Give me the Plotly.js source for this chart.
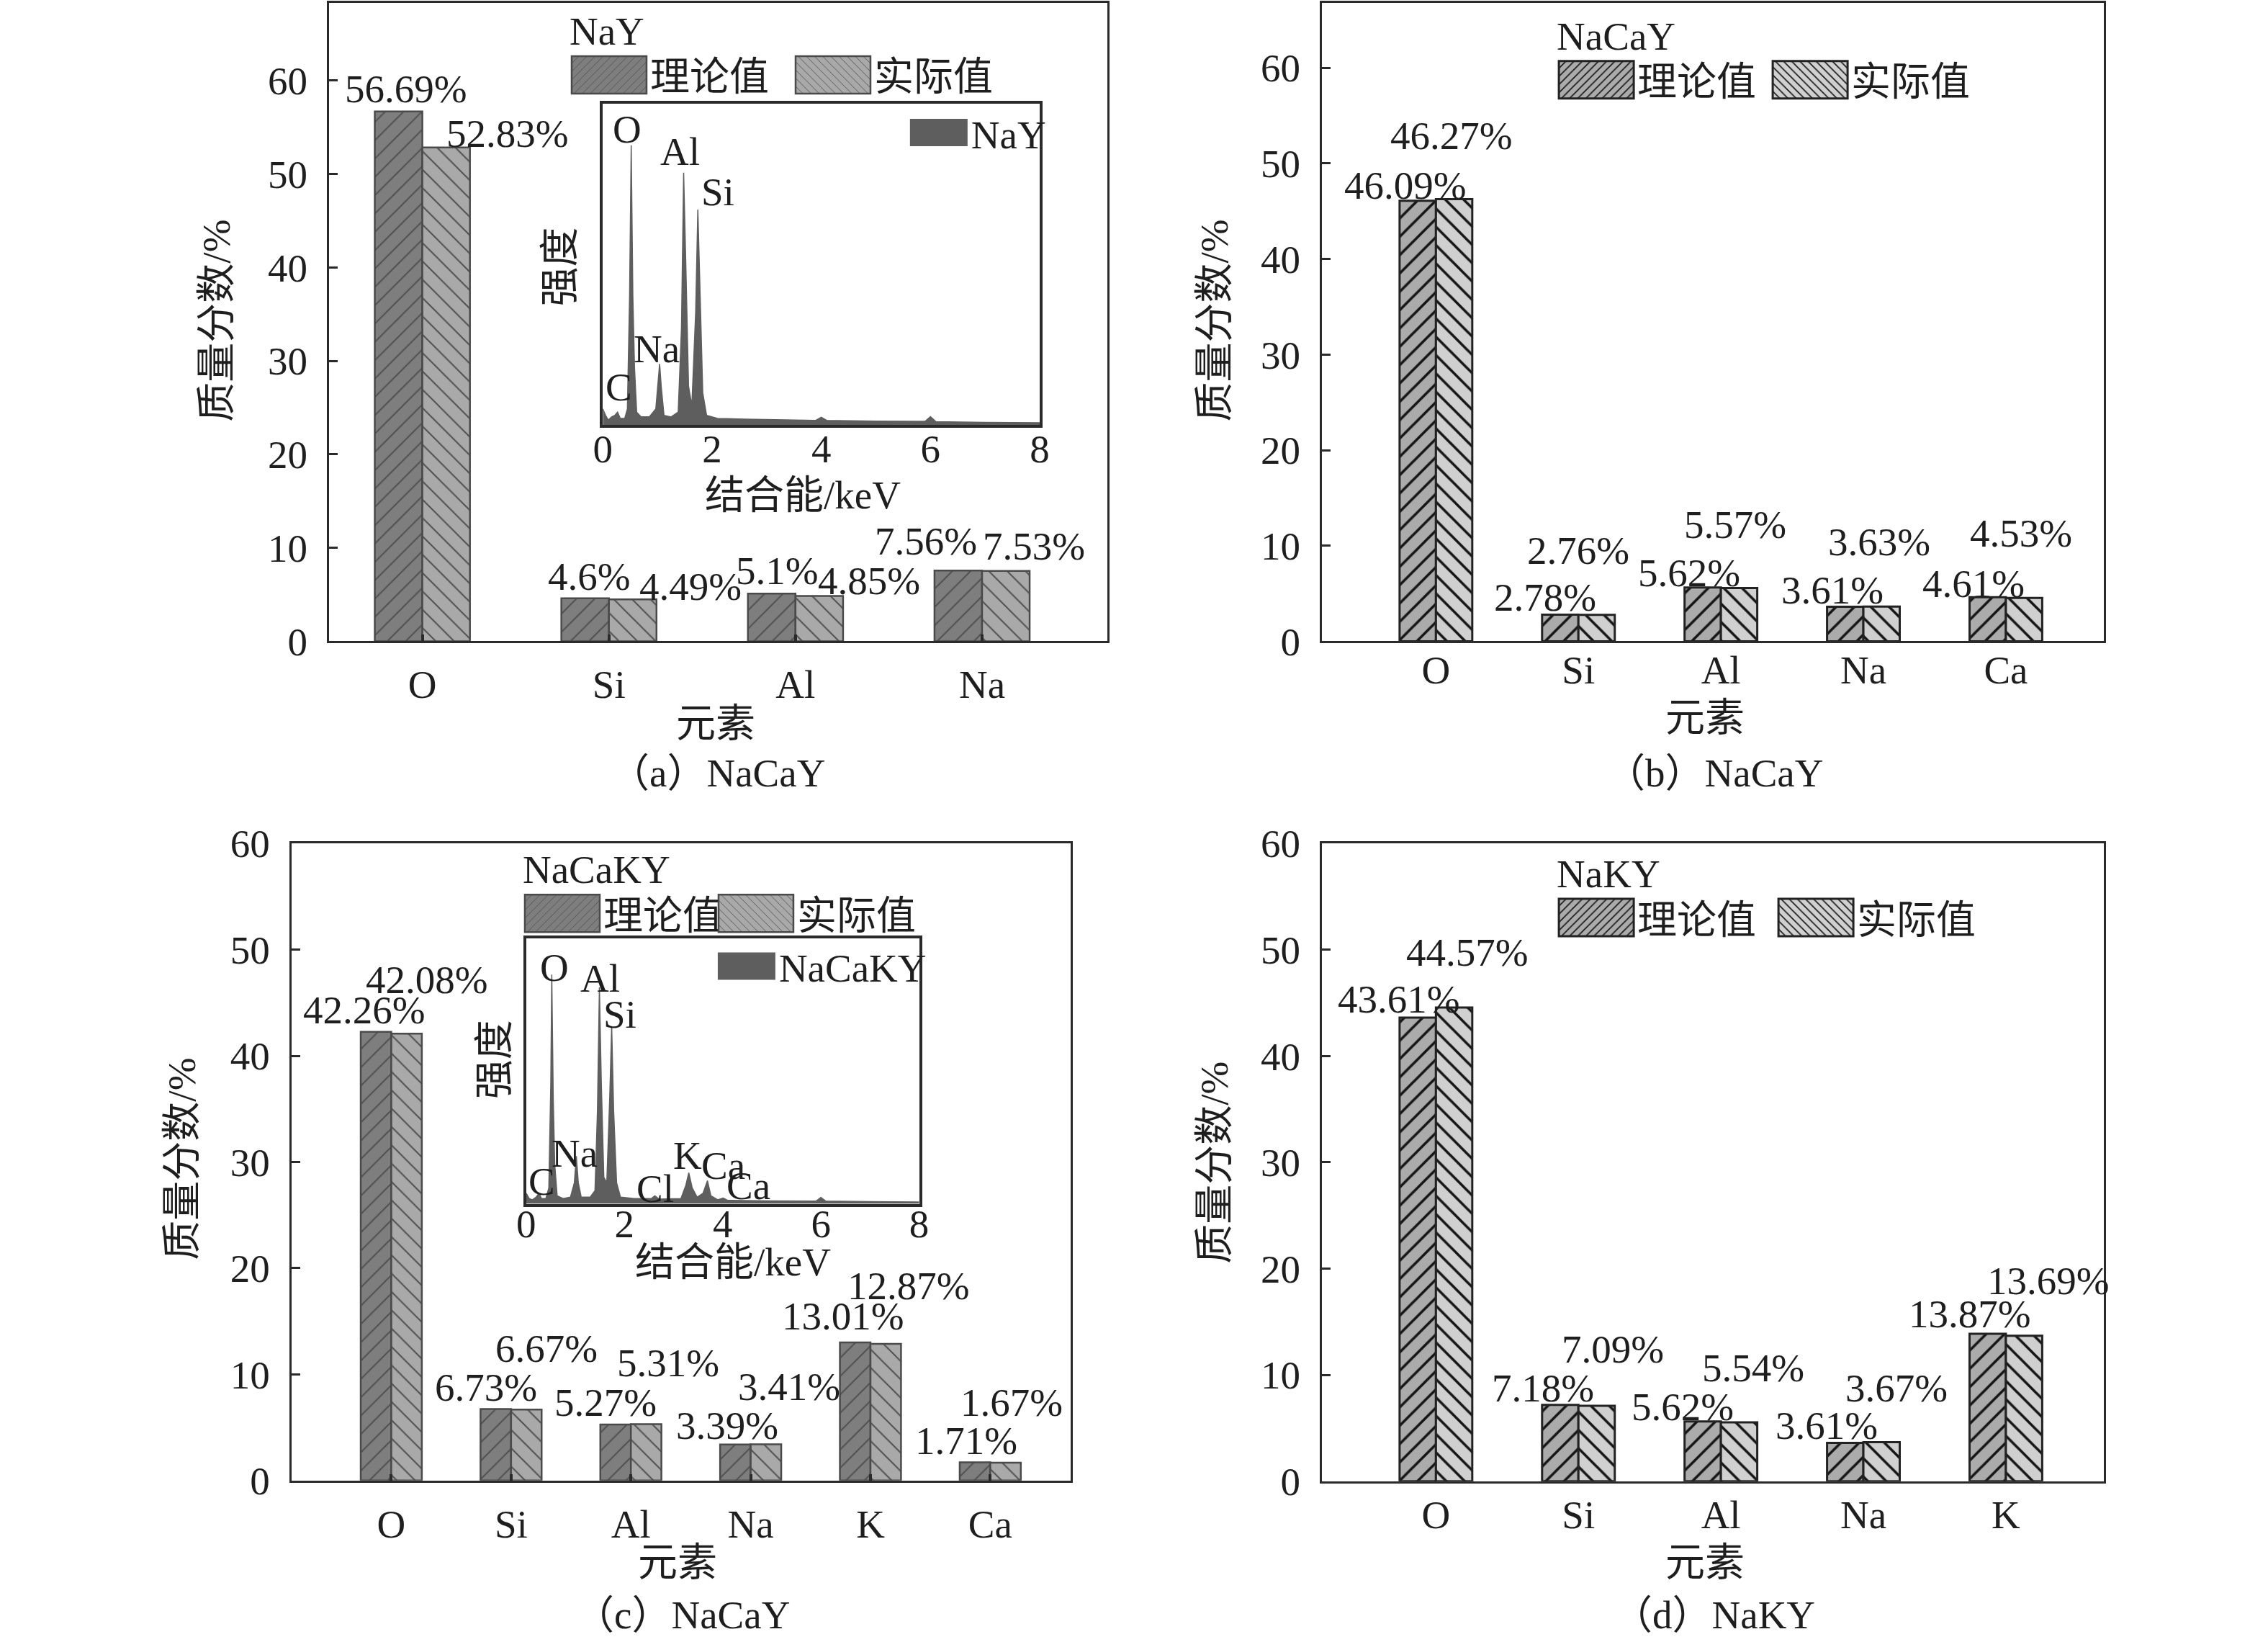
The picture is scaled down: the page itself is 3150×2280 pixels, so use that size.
<!DOCTYPE html>
<html>
<head>
<meta charset="utf-8">
<script src="https://cdn.plot.ly/plotly-3.0.1.min.js"></script>
<style>html,body{margin:0;padding:0;background:#fff;}</style>
</head>
<body>
<div id="chart" style="width:3150px;height:2280px;"></div>
<script>
// ---------------- data ----------------
const catsA = ['O', 'Si', 'Al', 'Na'];
const theoA = [56.69, 4.6, 5.1, 7.56];
const actA  = [52.83, 4.49, 4.85, 7.53];

const catsB = ['O', 'Si', 'Al', 'Na', 'Ca'];
const theoB = [46.09, 2.78, 5.62, 3.61, 4.61];
const actB  = [46.27, 2.76, 5.57, 3.63, 4.53];

const catsC = ['O', 'Si', 'Al', 'Na', 'K', 'Ca'];
const theoC = [42.26, 6.73, 5.27, 3.39, 13.01, 1.71];
const actC  = [42.08, 6.67, 5.31, 3.41, 12.87, 1.67];

const catsD = ['O', 'Si', 'Al', 'Na', 'K'];
const theoD = [43.61, 7.18, 5.62, 3.61, 13.87];
const actD  = [44.57, 7.09, 5.54, 3.67, 13.69];

const seriesNames = ['理论值', '实际值'];
const legendTitles = ['NaY', 'NaCaY', 'NaCaKY', 'NaKY'];
const captions = ['（a）NaCaY', '（b）NaCaY', '（c）NaCaY', '（d）NaKY'];
const yTicks = [0, 10, 20, 30, 40, 50, 60];
const insetTicks = [0, 2, 4, 6, 8];

// EDS spectrum, inset of (a): energy keV / relative intensity
const energyA = [0.00,0.05,0.10,0.16,0.22,0.27,0.32,0.40,0.45,0.49,0.52,0.55,0.58,0.62,0.70,0.85,0.97,1.02,1.04,1.07,1.12,1.25,1.38,1.44,1.48,1.52,1.57,1.63,1.70,1.74,1.78,1.83,1.90,2.10,2.60,3.20,3.90,4.00,4.10,5.00,5.90,6.00,6.10,7.00,8.00];
const intenA  = [5,3,1.5,2.5,3,4,2,2,5,40,87,40,18,4,2.5,2.5,5,15,19,12,3,2.5,4,30,78.5,50,12,6,35,67,40,10,3,2,1.8,1.6,1.4,2.4,1.4,1.2,1.1,2.6,1.0,0.8,0.7];
// EDS spectrum, inset of (c)
const energyC = [0.00,0.06,0.12,0.20,0.26,0.31,0.40,0.46,0.50,0.52,0.55,0.58,0.63,0.75,0.90,0.98,1.02,1.06,1.12,1.30,1.40,1.45,1.49,1.53,1.58,1.64,1.70,1.74,1.78,1.84,1.92,2.20,2.55,2.62,2.70,3.15,3.25,3.31,3.38,3.48,3.60,3.69,3.76,3.90,4.01,4.10,5.00,5.90,6.00,6.10,7.00,8.00];
const intenC  = [4,2,1.5,2.5,4,2,2,6,45,86.4,40,15,3,2,2.5,8,18,8,2.5,2.5,5,35,81.6,45,10,8,40,67,35,8,2.5,2,2,3,1.8,2,7,11.7,6,2.5,4,8.7,3,1.5,2.2,1.3,1.1,1.0,2.4,1.0,0.8,0.7];
const peakLabelsA = ['O', 'Al', 'Si', 'Na', 'C'];
const peakLabelsC = ['O', 'Al', 'Si', 'Na', 'C', 'Cl', 'K', 'Ca', 'Ca'];

// ---------------- geometry / style ----------------
const W = 3150, H = 2280;
const S = 0.985;                       // measurement scale correction
const px = v => v * S / W;
const py = v => 1 - v * S / H;
const FONT = 'Liberation Serif, "Noto Sans CJK SC", serif';
const FS = 55;
const INK = '#1e1e1e';
const AX = '#2a2a2a';

const styleAC = {c1: '#7e7e7e', c2: '#a9a9a9', fg: '#505050', edge: '#4a4a4a', ew: 2.5, ps: 18, sol: 0.11};
const styleBD = {c1: '#ababab', c2: '#d0d0d0', fg: '#151515', edge: '#222222', ew: 3, ps: 18, sol: 0.2};

function barPair(cats, theo, act, xa, ya, lg, st) {
  return [
    {type: 'bar', x: cats, y: theo, name: seriesNames[0], xaxis: xa, yaxis: ya, legend: lg, hoverinfo: 'skip',
     marker: {color: st.c1, line: {color: st.edge, width: st.ew},
              pattern: {shape: '/', size: st.ps, solidity: st.sol, fgcolor: st.fg, bgcolor: st.c1, fillmode: 'replace'}}},
    {type: 'bar', x: cats, y: act, name: seriesNames[1], xaxis: xa, yaxis: ya, legend: lg, hoverinfo: 'skip',
     marker: {color: st.c2, line: {color: st.edge, width: st.ew},
              pattern: {shape: '\\', size: st.ps, solidity: st.sol, fgcolor: st.fg, bgcolor: st.c2, fillmode: 'replace'}}}
  ];
}

const data = [].concat(
  barPair(catsA, theoA, actA, 'x', 'y', 'legend', styleAC),
  barPair(catsB, theoB, actB, 'x2', 'y2', 'legend2', styleBD),
  barPair(catsC, theoC, actC, 'x3', 'y3', 'legend3', styleAC),
  barPair(catsD, theoD, actD, 'x4', 'y4', 'legend4', styleBD),
  [
    {type: 'scatter', x: energyA, y: intenA, mode: 'lines', fill: 'tozeroy', fillcolor: '#5e5e5e',
     line: {color: '#5e5e5e', width: 1.5}, name: 'NaY', xaxis: 'x5', yaxis: 'y5', legend: 'legend5', hoverinfo: 'skip'},
    {type: 'scatter', x: energyC, y: intenC, mode: 'lines', fill: 'tozeroy', fillcolor: '#5e5e5e',
     line: {color: '#5e5e5e', width: 1.5}, name: 'NaCaKY', xaxis: 'x6', yaxis: 'y6', legend: 'legend6', hoverinfo: 'skip'}
  ]
);

const tf = {family: FONT, size: FS, color: INK};

function mainX(dom, range, cats, anchor, standoff, ticks) {
  return {domain: dom, anchor: anchor, type: 'category', categoryorder: 'array', categoryarray: cats, range: range,
          showline: true, mirror: true, linecolor: AX, linewidth: 3,
          ticks: ticks ? 'inside' : '', ticklen: 9, tickwidth: 4, tickcolor: AX,
          tickfont: tf, ticklabelstandoff: standoff, showgrid: false, zeroline: false, fixedrange: true};
}
function mainY(dom, range, anchor) {
  return {domain: dom, anchor: anchor, range: range, tickvals: yTicks, ticks: 'inside', ticklen: 12, tickwidth: 3,
          tickcolor: AX, showline: true, mirror: true, linecolor: AX, linewidth: 3,
          tickfont: tf, ticklabelstandoff: 16, showgrid: false, zeroline: false, fixedrange: true};
}
function insetX(dom, anchor, standoff) {
  return {domain: dom, anchor: anchor, range: [0, 8], tickvals: insetTicks, ticks: '', showline: true, mirror: true,
          linecolor: AX, linewidth: 4, tickfont: tf, ticklabelstandoff: standoff, showgrid: false, zeroline: false, fixedrange: true};
}
function insetY(dom, anchor) {
  return {domain: dom, anchor: anchor, range: [0, 100], showticklabels: false, ticks: '', showline: true, mirror: true,
          linecolor: AX, linewidth: 4, showgrid: false, zeroline: false, fixedrange: true};
}

// label offsets (px) relative to category centre / bar top: [dx, dy]
const offA_T = [[-23, 32], [-28, 31], [-26, 32], [-79, 41]];
const offA_A = [[120, 20], [115, 18], [104, 21], [73, 35]];
const offB_T = [[-43, 22], [-47, 24], [-45, 21], [-44, 23], [-46, 19]];
const offB_A = [[22, 89], [0, 91], [20, 89], [22, 91], [21, 91]];
const offC_T = [[-38, 31], [-35, 30], [-36, 31], [-33, 27], [-39, 37], [-34, 30]];
const offC_A = [[50, 76], [50, 86], [53, 86], [54, 81], [54, 82], [30, 85]];
const offD_T = [[-52, 26], [-50, 24], [-54, 21], [-52, 24], [-51, 28]];
const offD_A = [[44, 78], [48, 80], [46, 77], [47, 76], [60, 77]];

function valueLabels(cats, vals, xr, yr, off) {
  return cats.map((c, i) => ({x: c, y: vals[i], xref: xr, yref: yr, text: vals[i] + '%', showarrow: false,
    xshift: off[i][0] * S, yshift: off[i][1] * S, xanchor: 'center', yanchor: 'middle', font: tf}));
}
function paperText(text, x, y, angle) {
  return {text: text, x: px(x), y: py(y), xref: 'paper', yref: 'paper', showarrow: false,
          xanchor: 'center', yanchor: 'middle', textangle: angle || 0, font: tf};
}
// inset peak labels placed in inset data coordinates
const peakPosA = [[0.44, 92], [1.41, 85], [2.11, 72.6], [0.98, 23.6], [0.29, 11.7]];
const peakPosC = [[0.57, 89], [1.50, 85], [1.91, 71.5], [0.98, 19], [0.32, 8.5], [2.63, 5.7], [3.29, 18.3], [4.01, 14.5], [4.52, 6.8]];
function peakLabels(names, pos, xr, yr) {
  return names.map((n, i) => ({text: n, x: pos[i][0], y: pos[i][1], xref: xr, yref: yr, showarrow: false,
                               xanchor: 'center', yanchor: 'middle', font: tf}));
}

const annotations = [].concat(
  valueLabels(catsA, theoA, 'x', 'y', offA_T), valueLabels(catsA, actA, 'x', 'y', offA_A),
  valueLabels(catsB, theoB, 'x2', 'y2', offB_T), valueLabels(catsB, actB, 'x2', 'y2', offB_A),
  valueLabels(catsC, theoC, 'x3', 'y3', offC_T), valueLabels(catsC, actC, 'x3', 'y3', offC_A),
  valueLabels(catsD, theoD, 'x4', 'y4', offD_T), valueLabels(catsD, actD, 'x4', 'y4', offD_A),
  peakLabels(peakLabelsA, peakPosA, 'x5', 'y5'),
  peakLabels(peakLabelsC, peakPosC, 'x6', 'y6'),
  [
    paperText('质量分数/%', 305, 452, -90), paperText('质量分数/%', 1712, 452, -90),
    paperText('质量分数/%', 256, 1634, -90), paperText('质量分数/%', 1712, 1639, -90),
    paperText('元素', 1009, 1020), paperText('元素', 2404, 1012),
    paperText('元素', 955, 2203), paperText('元素', 2404, 2203),
    paperText(captions[0], 1012, 1090), paperText(captions[1], 2417, 1090),
    paperText(captions[2], 962, 2277), paperText(captions[3], 2417, 2277),
    paperText('结合能/keV', 1132, 698), paperText('强度', 789, 376, -90),
    paperText('结合能/keV', 1033, 1779), paperText('强度', 697, 1494, -90)
  ]
);

function mainLegend(title, x, y, ew) {
  return {title: {text: title, side: 'top', font: tf}, orientation: 'h', x: px(x), y: py(y), xanchor: 'left', yanchor: 'top',
          bgcolor: 'rgba(0,0,0,0)', borderwidth: 0, font: tf, itemwidth: 104, entrywidth: ew, entrywidthmode: 'pixels',
          itemclick: false, itemdoubleclick: false};
}
function insetLegend(x, y) {
  return {orientation: 'h', x: px(x), y: py(y), xanchor: 'left', yanchor: 'top', bgcolor: 'rgba(0,0,0,0)',
          borderwidth: 0, font: tf, itemwidth: 80, itemclick: false, itemdoubleclick: false};
}

const layout = {
  width: W, height: H,
  margin: {l: 0, r: 0, t: 0, b: 0, autoexpand: false},
  paper_bgcolor: '#ffffff', plot_bgcolor: 'rgba(0,0,0,0)',
  font: tf,
  barmode: 'group', bargap: 0.49, bargroupgap: 0,
  showlegend: true,
  xaxis:  mainX([px(464), px(1561)], [-0.5, 3.67], catsA, 'y', 10, true),
  yaxis:  mainY([py(904), py(4)], [0, 68.3], 'x'),
  xaxis2: mainX([px(1864), px(2967)], [-0.80, 4.69], catsB, 'y2', -10, false),
  yaxis2: mainY([py(904), py(4)], [0, 66.8], 'x2'),
  xaxis3: mainX([px(411), px(1510)], [-0.833, 5.673], catsC, 'y3', 10, true),
  yaxis3: mainY([py(2087), py(1189)], [0, 60], 'x3'),
  xaxis4: mainX([px(1864), px(2967)], [-0.80, 4.69], catsD, 'y4', -4, false),
  yaxis4: mainY([py(2088), py(1189)], [0, 60], 'x4'),
  xaxis5: insetX([px(850), px(1466)], 'y5', -18),
  yaxis5: insetY([py(599), py(146)], 'x5'),
  xaxis6: insetX([px(742), px(1296)], 'y6', -24),
  yaxis6: insetY([py(1697), py(1323)], 'x6'),
  legend:  mainLegend(legendTitles[0], 801, -10, 192),
  legend2: mainLegend(legendTitles[1], 2193, -3, 178),
  legend3: mainLegend(legendTitles[2], 735, 1172, 150),
  legend4: mainLegend(legendTitles[3], 2193, 1178, 186),
  legend5: insetLegend(1278, 144),
  legend6: insetLegend(1007, 1319),
  annotations: annotations
};

const gd = document.getElementById('chart');
Plotly.newPlot(gd, data, layout, {staticPlot: true, displayModeBar: false}).then(function () {
  // enlarge legend swatches to match the reference's wide boxes
  gd.querySelectorAll('.legendpoints path').forEach(function (p) {
    p.setAttribute('d', 'M52,26H-52V-26H52Z');
  });
  gd.querySelectorAll('.legendfill path').forEach(function (p) {
    p.setAttribute('d', 'M5,-19h80v38h-80z');
  });
  gd.querySelectorAll('.legendlines path').forEach(function (p) {
    p.style.display = 'none';
  });
  // let legend texts run past the fixed entry width, as in the reference
  gd.querySelectorAll('.scrollbox').forEach(function (s) {
    s.removeAttribute('clip-path');
  });
});
</script>
</body>
</html>
